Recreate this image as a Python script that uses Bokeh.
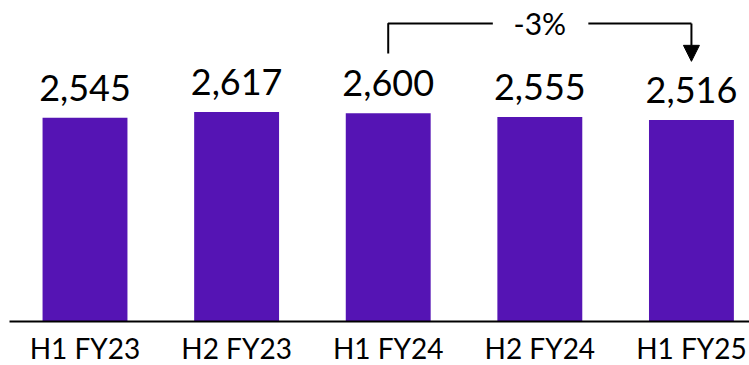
from bokeh.plotting import figure
from bokeh.models import Range1d, Arrow, NormalHead, ColumnDataSource
from bokeh.core.properties import value
from bokeh.embed import file_html
from bokeh.resources import INLINE

categories = ["H1 FY23", "H2 FY23", "H1 FY24", "H2 FY24", "H1 FY25"]
values = [2545, 2617, 2600, 2555, 2516]
labels = ["2,545", "2,617", "2,600", "2,555", "2,516"]
change_label = "-3%"
change_from = 2
change_to = 4

FONT = "Lato"
PURPLE = "#5514B4"

xs = list(range(len(categories)))
src = ColumnDataSource(dict(x=xs, top=values, label=labels, cat=categories, zero=[0] * len(xs)))

p = figure(width=749, height=365, output_backend="svg", toolbar_location=None,
           x_range=Range1d(-0.5574, 4.383), y_range=Range1d(-550, 4010),
           min_border=0, x_axis_type=None, y_axis_type=None)
p.outline_line_color = None
p.background_fill_color = "white"
p.border_fill_color = "white"
p.grid.visible = False

p.vbar(x="x", top="top", bottom=0, width=0.56, source=src, fill_color=PURPLE, line_color=None)
p.text(x="x", y="top", text="label", source=src, text_align="center", text_baseline="middle",
       y_offset=-30, text_font=value(FONT), text_font_size="36px", text_color="black")

# baseline axis line
p.line(x=[-0.498, 4.383], y=[0, 0], line_color="black", line_width=2)
p.text(x="x", y="zero", text="cat", source=src, text_align="center", text_baseline="middle",
       y_offset=27, text_font=value(FONT), text_font_size="28px", text_color="black")

# bracket
y_low = 3348
y_top = 3723
y_tip = 3250
gap_l = 2.69
gap_r = 3.32
p.line(x=[change_from, change_from, gap_l], y=[y_low, y_top, y_top], line_color="black", line_width=2)
p.line(x=[gap_r, change_to], y=[y_top, y_top], line_color="black", line_width=2)
p.add_layout(Arrow(x_start=change_to, y_start=y_top, x_end=change_to, y_end=y_tip,
                   line_color="black", line_width=2,
                   end=NormalHead(size=16, fill_color="black", line_color="black")))
p.text(x=[(change_from + change_to) / 2], y=[y_top], text=[change_label], text_align="center",
       text_baseline="middle", text_font=value(FONT), text_font_size="30px", text_color="black")

open("out.html", "w").write(file_html(p, INLINE))
